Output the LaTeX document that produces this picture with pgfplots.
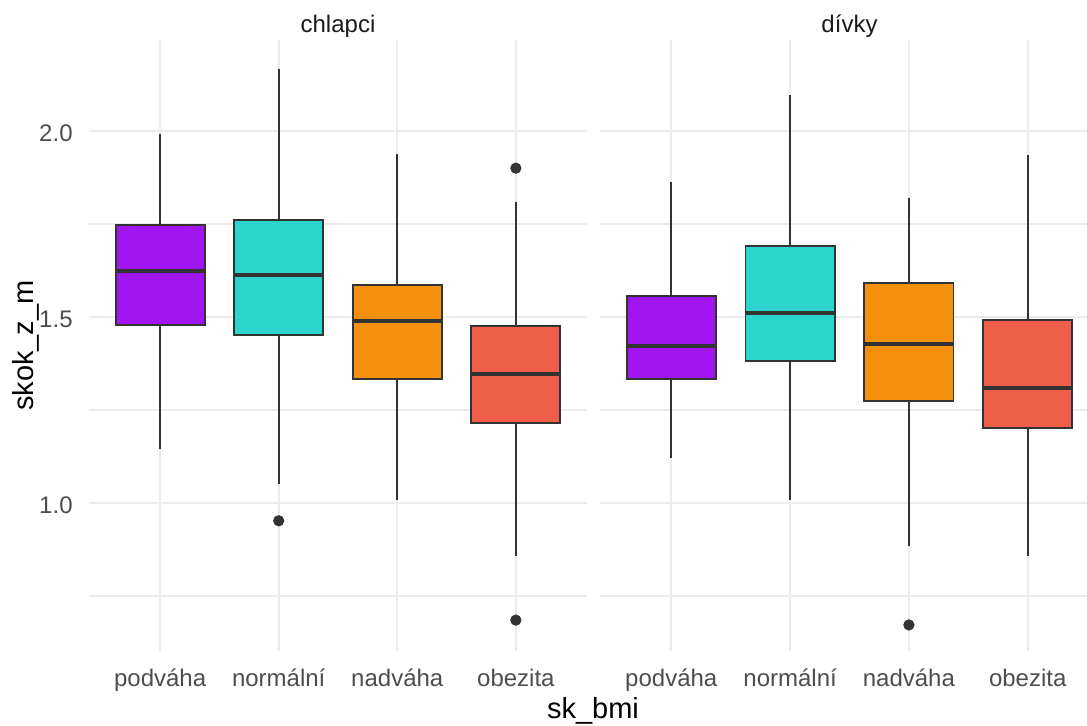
\documentclass[border=0pt]{standalone}
\usepackage{fontspec}
\setmainfont{Liberation Sans}
\usepackage{pgfplots}
\pgfplotsset{compat=1.18}
\usepgfplotslibrary{statistics}
\definecolor{cpurple}{HTML}{A116F0}
\definecolor{cturq}{HTML}{2BD4CC}
\definecolor{corange}{HTML}{F5900E}
\definecolor{ctomato}{HTML}{EF5E48}
\definecolor{cline}{HTML}{333333}
\definecolor{gridc}{HTML}{EBEBEB}
\definecolor{tickc}{HTML}{4D4D4D}
\definecolor{stripc}{HTML}{1A1A1A}
\pgfplotsset{
  panel/.style={
    anchor=south west, scale only axis,
    height=305.5pt,
    xmin=0.4, xmax=4.6, ymin=0.602, ymax=2.2446,
    xtick={1,2,3,4},
    xticklabels={podváha,normální,nadváha,obezita},
    ytick={1.0,1.5,2.0},
    minor ytick={0.75,1.25,1.75,2.25},
    xmajorgrids, ymajorgrids, yminorgrids,
    major grid style={color=gridc, line width=1pt},
    minor grid style={color=gridc, line width=0.6pt},
    axis line style={draw=none},
    tick style={draw=none},
    major tick length=0pt, minor tick length=0pt,
    xticklabel style={font=\fontsize{12}{14}\selectfont, color=tickc, anchor=base, inner sep=0pt, yshift=-18pt},
    yticklabel style={font=\fontsize{12}{14}\selectfont, color=tickc, anchor=east, inner sep=0pt, xshift=-8pt, yshift=-1pt},
    title style={font=\fontsize{12}{14}\selectfont, color=stripc, anchor=base, at={(axis description cs:0.5,1)}, yshift=-2.5pt},
    boxplot/draw direction=y,
    boxplot/box extend=0.75,
    boxplot/whisker extend=0,
    boxplot/every median/.style={line width=2pt, draw=cline},
    boxplot/every whisker/.style={line width=1pt, draw=cline},
    boxplot/every box/.style={line width=0.9pt, draw=cline},
  },
  bx/.style={draw=cline, line width=0.9pt, fill=#1, solid},
  outl/.style={only marks, mark=*, mark size=2.6pt, color=cline, mark options={fill=cline, draw=cline}},
}
\begin{document}
\begin{tikzpicture}
\begin{axis}[panel, at={(44.5pt,37.5pt)}, width=249pt,
  title={chlapci},
  yticklabels={1.0,1.5,2.0},
  xlabel={sk\_bmi},
  xlabel style={font=\fontsize{14.5}{16}\selectfont, color=black, at={(axis description cs:1.012,-0.1097)}, anchor=base, inner sep=0pt},
  ylabel={skok\_z\_m},
  ylabel style={font=\fontsize{14.5}{16}\selectfont, color=black, at={(axis description cs:-0.1124,0.5)}, anchor=base, inner sep=0pt},
]
\addplot[bx=cpurple, boxplot prepared={draw position=1, lower whisker=1.145, lower quartile=1.478, median=1.624, upper quartile=1.747, upper whisker=1.992}] coordinates {};
\addplot[bx=cturq, boxplot prepared={draw position=2, lower whisker=1.051, lower quartile=1.452, median=1.613, upper quartile=1.761, upper whisker=2.167}] coordinates {};
\addplot[bx=corange, boxplot prepared={draw position=3, lower whisker=1.008, lower quartile=1.333, median=1.489, upper quartile=1.586, upper whisker=1.938}] coordinates {};
\addplot[bx=ctomato, boxplot prepared={draw position=4, lower whisker=0.858, lower quartile=1.215, median=1.347, upper quartile=1.476, upper whisker=1.809}] coordinates {};
\addplot[outl] coordinates {(2,0.952) (4,1.900) (4,0.685)};
\end{axis}
\begin{axis}[panel, at={(300pt,37.5pt)}, width=249.5pt,
  title={dívky},
  yticklabels={},
]
\addplot[bx=cpurple, boxplot prepared={draw position=1, lower whisker=1.121, lower quartile=1.333, median=1.422, upper quartile=1.556, upper whisker=1.863}] coordinates {};
\addplot[bx=cturq, boxplot prepared={draw position=2, lower whisker=1.008, lower quartile=1.382, median=1.511, upper quartile=1.691, upper whisker=2.097}] coordinates {};
\addplot[bx=corange, boxplot prepared={draw position=3, lower whisker=0.884, lower quartile=1.274, median=1.427, upper quartile=1.591, upper whisker=1.820}] coordinates {};
\addplot[bx=ctomato, boxplot prepared={draw position=4, lower whisker=0.858, lower quartile=1.202, median=1.309, upper quartile=1.492, upper whisker=1.935}] coordinates {};
\addplot[outl] coordinates {(3,0.672)};
\end{axis}
\pgfresetboundingbox
\useasboundingbox (0,0) rectangle (543.5pt,363pt);
\end{tikzpicture}
\end{document}
